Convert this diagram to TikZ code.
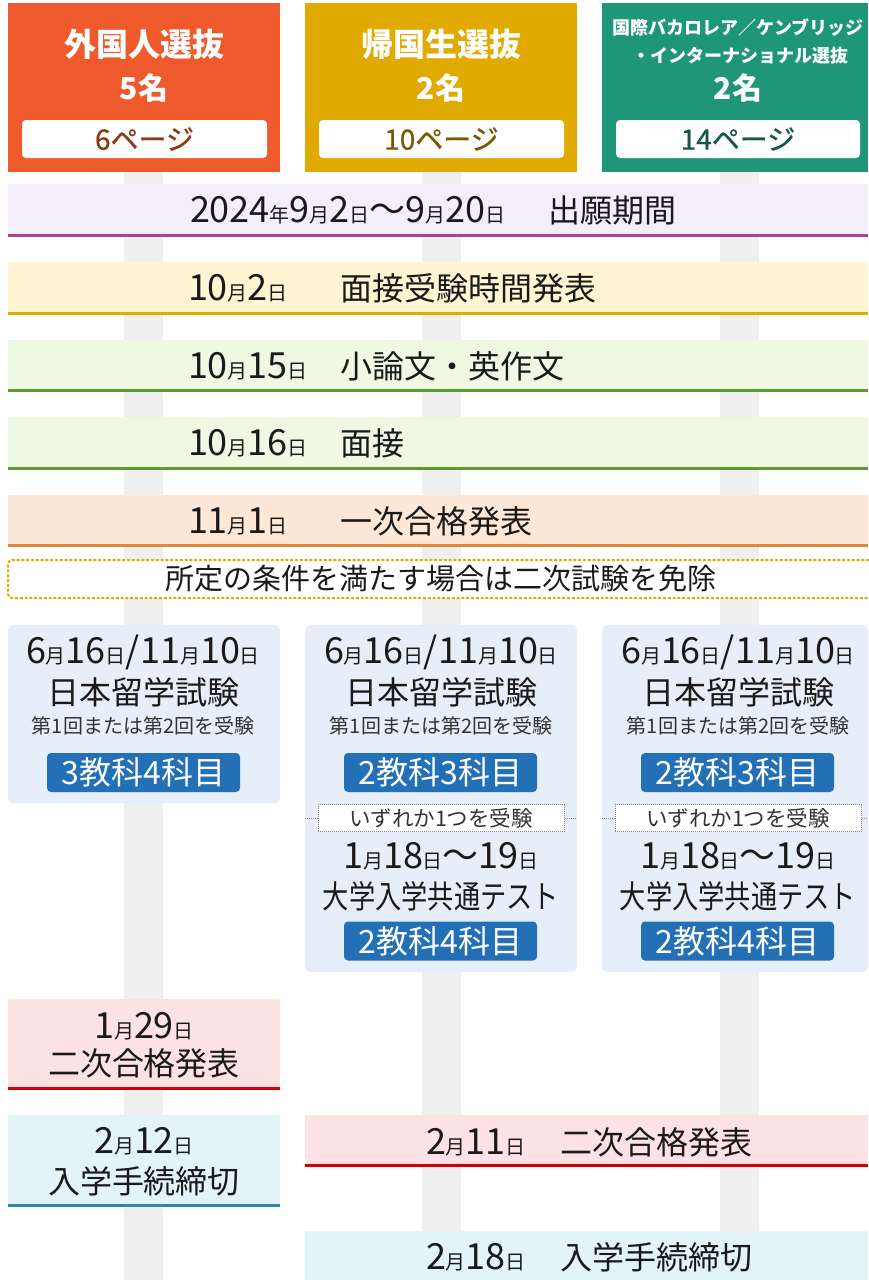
\documentclass[tikz,border=0pt]{standalone}
\usepackage{fontspec}
\setmainfont{Noto Sans CJK JP}
\newfontfamily\medfont{Noto Sans CJK JP}[FakeBold=0.8]
\newfontfamily\narrowfont{Noto Sans CJK JP}[FakeStretch=0.82]
\newcommand{\fsz}[1]{\fontsize{#1pt}{#1pt}\selectfont}
\newcommand{\sk}[1]{{\fsz{20}#1}}
\definecolor{ink}{HTML}{1A1A1A}
\definecolor{subink}{HTML}{333333}
\definecolor{barc}{HTML}{EFEFEF}
\definecolor{hA}{HTML}{EE5A2C}
\definecolor{hB}{HTML}{E0AA00}
\definecolor{hC}{HTML}{1F9678}
\definecolor{pA}{HTML}{8B3A16}
\definecolor{pB}{HTML}{7A5800}
\definecolor{pC}{HTML}{17574A}
\definecolor{rowA}{HTML}{F4EEFA}
\definecolor{lnA}{HTML}{A8458F}
\definecolor{rowB}{HTML}{FFF5D3}
\definecolor{lnB}{HTML}{E3AB00}
\definecolor{rowC}{HTML}{EFF8E3}
\definecolor{lnC}{HTML}{5C9A2D}
\definecolor{rowD}{HTML}{FDE8D8}
\definecolor{lnD}{HTML}{E9843F}
\definecolor{examf}{HTML}{E6EEF9}
\definecolor{subjc}{HTML}{2370B7}
\definecolor{pinkf}{HTML}{FDE2E4}
\definecolor{redl}{HTML}{D30000}
\definecolor{cyanf}{HTML}{E3F4F8}
\definecolor{cyanl}{HTML}{2D8AA0}
\definecolor{dotc}{HTML}{8A8A8A}
\begin{document}
\begin{tikzpicture}[x=1pt,y=-1pt,
  every node/.style={inner sep=0pt, outer sep=0pt, text=ink, font=\fsz{32}},
  ttl/.style={text=white, font=\fsz{32}\bfseries},
  ttlsm/.style={text=white, font=\fsz{18}\bfseries},
  num/.style={text=white, font=\fsz{30}\bfseries},
  pg/.style={fill=white, rounded corners=4pt, minimum height=38pt, font=\medfont\fsz{28}},
  date/.style={font=\fsz{36}},
  band/.style={minimum height=#1pt},
  exam/.style={fill=examf, rounded corners=5pt},
  sub/.style={text=subink, font=\fsz{20}},
  subj/.style={fill=subjc, text=white, rounded corners=4pt, minimum width=193pt, minimum height=39pt, font=\fsz{32}},
  either/.style={fill=white, draw=dotc, densely dotted, line width=1pt, minimum width=246pt, minimum height=27pt, text=subink, font=\fsz{21.5}},
  uline/.style={line width=3pt}
]
\useasboundingbox (0,0) rectangle (868,1280);
% vertical bars
\fill[barc] (124,172) rectangle (163,1280);
\fill[barc] (422,172) rectangle (461,1280);
\fill[barc] (720,172) rectangle (759,1280);
% headers
\node[fill=hA, minimum width=272pt, minimum height=169pt] (hA) at (144,87.5) {};
\node[ttl] (hAt) at (144,44) {外国人選抜};
\node[num] (hAn) at (144,88) {5名};
\node[pg, minimum width=245pt, text=pA] (hAp) at (144.5,139) {6ページ};
\node[fill=hB, minimum width=272pt, minimum height=169pt] (hB) at (441,87.5) {};
\node[ttl] (hBt) at (441,44) {帰国生選抜};
\node[num] (hBn) at (441,88) {2名};
\node[pg, minimum width=245pt, text=pB] (hBp) at (441.5,139) {10ページ};
\node[fill=hC, minimum width=266pt, minimum height=169pt] (hC) at (735,87.5) {};
\node[ttlsm] (hCt1) at (738,28) {国際バカロレア／ケンブリッジ};
\node[ttlsm] (hCt2) at (740,56) {・インターナショナル選抜};
\node[num] (hCn) at (738,88) {2名};
\node[pg, minimum width=244pt, text=pC] (hCp) at (738,139) {14ページ};
% common rows
\node[fill=rowA, minimum width=860pt, band=53] (r1) at (438,210.5) {};
\draw[uline, lnA] ([yshift=1.5pt]r1.south west) -- ([yshift=1.5pt]r1.south east);
\node[date, anchor=west] (r1d) at (190,210.5) {2024\sk{年}9\sk{月}2\sk{日}～9\sk{月}20\sk{日}};
\node[anchor=west] (r1l) at (548,210.5) {出願期間};
\node[fill=rowB, minimum width=860pt, band=53] (r2) at (438,288.5) {};
\draw[uline, lnB] ([yshift=1.5pt]r2.south west) -- ([yshift=1.5pt]r2.south east);
\node[date, anchor=west] (r2d) at (188,288.5) {10\sk{月}2\sk{日}};
\node[anchor=west] (r2l) at (340,288.5) {面接受験時間発表};
\node[fill=rowC, minimum width=860pt, band=52] (r3) at (438,366) {};
\draw[uline, lnC] ([yshift=1.5pt]r3.south west) -- ([yshift=1.5pt]r3.south east);
\node[date, anchor=west] (r3d) at (188,366) {10\sk{月}15\sk{日}};
\node[anchor=west] (r3l) at (340,366) {小論文・英作文};
\node[fill=rowC, minimum width=860pt, band=53] (r4) at (438,443.5) {};
\draw[uline, lnC] ([yshift=1.5pt]r4.south west) -- ([yshift=1.5pt]r4.south east);
\node[date, anchor=west] (r4d) at (188,443.5) {10\sk{月}16\sk{日}};
\node[anchor=west] (r4l) at (340,443.5) {面接};
\node[fill=rowD, minimum width=860pt, band=52] (r5) at (438,521) {};
\draw[uline, lnD] ([yshift=1.5pt]r5.south west) -- ([yshift=1.5pt]r5.south east);
\node[date, anchor=west] (r5d) at (188,521) {11\sk{月}1\sk{日}};
\node[anchor=west] (r5l) at (340,521) {一次合格発表};
% exemption note
\node[fill=white, draw=lnB, dash pattern=on 3pt off 1.8pt, line width=2pt, rounded corners=4pt, minimum width=870pt, minimum height=38pt] (ex) at (443,579) {};
\node[font=\fsz{29}] (ext) at (441,579) {所定の条件を満たす場合は二次試験を免除};
% exam box column 1
\node[exam, minimum width=272pt, minimum height=178pt] (e1) at (144,714) {};
\node[date] (e1a) at (143,652) {6\sk{月}16\sk{日}/11\sk{月}10\sk{日}};
\node (e1b) at (143,692) {日本留学試験};
\node[sub] (e1c) at (143,726) {第1回または第2回を受験};
\node[subj] (e1d) at (143.5,772.5) {3教科4科目};
% exam box column 2
\node[exam, minimum width=272pt, minimum height=347pt] (e2) at (441,798.5) {};
\node[date] (e2a) at (441,652) {6\sk{月}16\sk{日}/11\sk{月}10\sk{日}};
\node (e2b) at (441,692) {日本留学試験};
\node[sub] (e2c) at (441,726) {第1回または第2回を受験};
\node[subj] (e2d) at (440.5,772.5) {2教科3科目};
\coordinate (e2m) at (441,818);
\draw[dotc, densely dotted, line width=1pt] (e2.west |- e2m) -- (e2.east |- e2m);
\node[either] (e2o) at (e2m) {いずれか1つを受験};
\node[date] (e2e) at (441,856) {1\sk{月}18\sk{日}～19\sk{日}};
\node[font=\narrowfont\fsz{32}] (e2f) at (441,896) {大学入学共通テスト};
\node[subj] (e2g) at (440.5,941) {2教科4科目};
% exam box column 3
\node[exam, minimum width=266pt, minimum height=347pt] (e3) at (735,798.5) {};
\node[date] (e3a) at (738,652) {6\sk{月}16\sk{日}/11\sk{月}10\sk{日}};
\node (e3b) at (738,692) {日本留学試験};
\node[sub] (e3c) at (738,726) {第1回または第2回を受験};
\node[subj] (e3d) at (737.5,772.5) {2教科3科目};
\coordinate (e3m) at (738,818);
\draw[dotc, densely dotted, line width=1pt] (e3.west |- e3m) -- (e3.east |- e3m);
\node[either] (e3o) at (e3m) {いずれか1つを受験};
\node[date] (e3e) at (738,856) {1\sk{月}18\sk{日}～19\sk{日}};
\node[font=\narrowfont\fsz{32}] (e3f) at (738,896) {大学入学共通テスト};
\node[subj] (e3g) at (737.5,941) {2教科4科目};
% second-stage results col 1
\node[fill=pinkf, minimum width=272pt, minimum height=91pt] (p1) at (144,1044.5) {};
\draw[uline, redl] ([yshift=1.5pt]p1.south west) -- ([yshift=1.5pt]p1.south east);
\node[date] (p1a) at (144,1026) {1\sk{月}29\sk{日}};
\node (p1b) at (144,1063) {二次合格発表};
\node[fill=cyanf, minimum width=272pt, minimum height=92pt] (k1) at (144,1161) {};
\draw[uline, cyanl] ([yshift=1.5pt]k1.south west) -- ([yshift=1.5pt]k1.south east);
\node[date] (k1a) at (144,1141) {2\sk{月}12\sk{日}};
\node (k1b) at (144,1181) {入学手続締切};
% second-stage results cols 2-3
\node[fill=pinkf, minimum width=563pt, minimum height=52pt] (p2) at (586.5,1141) {};
\draw[uline, redl] ([yshift=1.5pt]p2.south west) -- ([yshift=1.5pt]p2.south east);
\node[date, anchor=west] (p2d) at (426,1142) {2\sk{月}11\sk{日}};
\node[anchor=west] (p2l) at (560,1142) {二次合格発表};
\node[fill=cyanf, minimum width=563pt, minimum height=49pt] (k2) at (586.5,1255.5) {};
\node[date, anchor=west] (k2d) at (426,1257) {2\sk{月}18\sk{日}};
\node[anchor=west] (k2l) at (560,1257) {入学手続締切};
\end{tikzpicture}
\end{document}
